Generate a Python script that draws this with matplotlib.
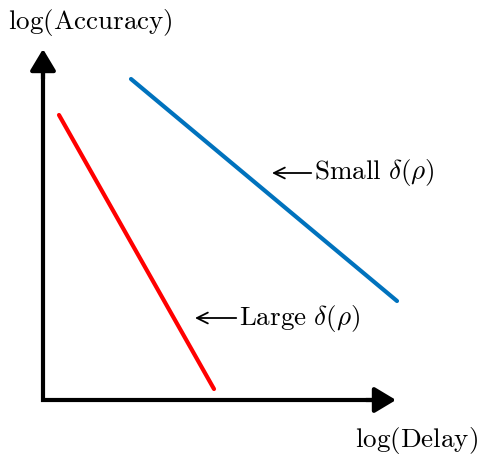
import matplotlib.pyplot as plt

plt.rcParams['mathtext.fontset'] = 'cm'

# schematic values (axes origin at 0, 0)
red_x = [16, 171]
red_y = [285, 11]
blue_x = [88, 354]
blue_y = [321, 99]
x_axis_len = 353
y_axis_len = 351

fig = plt.figure(figsize=(4.8, 4.55), dpi=100)
ax = fig.add_axes([0, 0, 1, 1])
ax.set_xlim(-43, 437)
ax.set_ylim(-55, 400)
ax.axis('off')

ax.plot(red_x, red_y, color='#ff0000', lw=3, solid_capstyle='round')
ax.plot(blue_x, blue_y, color='#0072bd', lw=3, solid_capstyle='round')

# axes drawn as one bent line, then arrowheads on top
ax.plot([0, 0, x_axis_len - 10], [y_axis_len - 10, 0, 0], color='black', lw=3,
        solid_joinstyle='miter', solid_capstyle='butt')
axis_arrow = dict(arrowstyle='-|>,head_length=0.5,head_width=0.3', lw=3,
                  color='black', mutation_scale=26, shrinkA=0, shrinkB=0)
ax.annotate('', xy=(x_axis_len, 0), xytext=(x_axis_len - 30, 0), arrowprops=axis_arrow)
ax.annotate('', xy=(0, y_axis_len), xytext=(0, y_axis_len - 30), arrowprops=axis_arrow)

ax.text(-35, 378, r'$\mathrm{log(Accuracy)}$', fontsize=19.5, va='center', ha='left')
ax.text(435, -40, r'$\mathrm{log(Delay)}$', fontsize=19.5, va='center', ha='right')

note_arrow = dict(arrowstyle='->', lw=1.3, color='black', shrinkA=0, shrinkB=0)
ax.annotate(r'$\mathrm{Small}\ \delta(\rho)$', xy=(229, 227), xytext=(271, 227),
            fontsize=19.5, va='center', ha='left', arrowprops=note_arrow)
ax.annotate(r'$\mathrm{Large}\ \delta(\rho)$', xy=(152, 82), xytext=(196, 82),
            fontsize=19.5, va='center', ha='left', arrowprops=note_arrow)

fig.savefig('out.png', dpi=100)
